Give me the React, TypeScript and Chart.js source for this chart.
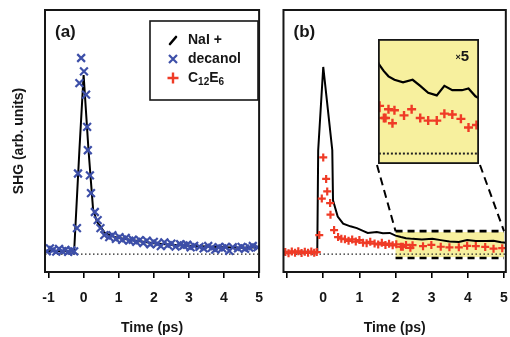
import React, { useEffect, useRef } from 'react';
import { Chart, registerables } from 'chart.js';
Chart.register(...registerables);

const FONT = '"Liberation Sans", Arial, Helvetica, sans-serif';

// ---------- Panel (a): NaI + decanol ----------
const lineA_t = [-1.1, -0.7, -0.4, -0.27, -0.12, 0, 0.14, 0.27, 0.38, 0.6, 0.8, 1.0, 1.5, 2.0, 2.5, 3.0, 3.5, 4.0, 4.5, 5.0];
const lineA_y = [1.6, 1.8, 1.5, 1.5, 58, 100, 58, 25, 18, 12, 10, 9, 7.5, 6, 5.2, 4.6, 4.2, 3.8, 3.6, 3.8];

const decanol_t = [
  -1.05, -0.96, -0.87, -0.78, -0.7, -0.61, -0.52, -0.44, -0.35, -0.27,
  -0.19, -0.16, -0.12, -0.07, 0.01, 0.07, 0.1, 0.12, 0.18, 0.21, 0.32, 0.4, 0.48, 0.59, 0.73,
  0.82, 0.92, 1.02, 1.1, 1.2, 1.3, 1.4, 1.5, 1.6, 1.7, 1.8, 1.9, 2.0, 2.1, 2.2, 2.3, 2.4, 2.5,
  2.62, 2.75, 2.85, 2.95, 3.05, 3.15, 3.3, 3.42, 3.55, 3.65, 3.75, 3.85, 3.95, 4.05, 4.15, 4.25,
  4.4, 4.5, 4.6, 4.72, 4.82, 4.95,
];
const decanol_y = [
  1.5, 3.2, 2.4, 1.4, 2.9, 1.7, 2.4, 1.2, 2.0, 1.5,
  14.5, 45, 95.5, 109.5, 102, 89, 71, 58, 44, 34, 23.5, 19, 14.5, 10.6, 9.5,
  10.5, 8.5, 9.5, 8, 9, 7.5, 8, 6.8, 7.8, 6.2, 7.5, 5.5, 6.8, 5.8, 4.5, 6.5, 5, 5.8,
  4.2, 5.5, 4.8, 5.2, 3.8, 4.6, 4, 3.2, 4.5, 3.5, 2.5, 3.8, 3.2, 4, 1.8, 3.8,
  3.2, 4, 3, 3.6, 4.5, 3.8,
];

// ---------- Panel (b): NaI + C12E6 ----------
const lineB_t = [-1.1, -0.6, -0.165, -0.14, 0, 0.25, 0.27, 0.4, 0.55, 0.75, 0.93, 1.1, 1.23, 1.48, 1.65, 1.84,
  2.0, 2.15, 2.29, 2.47, 2.73, 3.02, 3.25, 3.49, 3.75, 3.98, 4.22, 4.51, 4.71, 4.92, 5.05];
const lineB_y = [1.2, 1.3, 1.2, 58, 104.5, 58, 30, 21, 17, 15.5, 14.5, 13, 11.8, 12.3, 11.6, 11.8,
  10.3, 9.5, 8.9, 8.5, 8.2, 8.5, 7.8, 7.0, 6.7, 7.8, 7.3, 7.3, 7.5, 6.6, 6.3];

const c12e6_t = [
  -1.05, -0.96, -0.87, -0.78, -0.69, -0.6, -0.51, -0.42, -0.33, -0.25, -0.18,
  -0.11, -0.04, 0, 0.08, 0.11, 0.19, 0.2, 0.3, 0.41, 0.5, 0.6, 0.7, 0.8, 0.9, 1.0, 1.1, 1.2, 1.3,
  1.42, 1.52, 1.62, 1.72, 1.82, 1.92, 2.02,
  2.15, 2.2, 2.29, 2.41, 2.47, 2.76, 2.99, 3.25, 3.49, 3.75, 3.98, 4.22, 4.48, 4.71, 4.95,
];
const c12e6_y = [
  1.2, 0.5, 1.5, 0.8, 1.6, 0.6, 1.3, 0.7, 1.4, 0.8, 1.1,
  10.6, 31, 54, 42, 35, 28.5, 22, 13.4, 9.5, 8.6, 8.3, 7.4, 8.2, 7.0, 7.8, 6.4, 6.1, 6.9,
  5.9, 5.4, 6.3, 5.1, 5.8, 4.9, 5.5,
  4.1, 4.1, 5.1, 3.5, 5.0, 4.4, 5.1, 4.1, 3.8, 3.8, 4.6, 4.5, 4.0, 3.0, 3.3,
];

// ---------- axes ----------
const tickValues = [-1, 0, 1, 2, 3, 4, 5];
const tickLabelsA = ['-1', '0', '1', '2', '3', '4', '5'];
const tickLabelsB = ['', '0', '1', '2', '3', '4', '5'];
const xRangeA = [-1.1, 5.0];
const xRangeB = [-1.1, 5.05];
const yRange = [-10, 136.3];
// zoomed region (panel b) and inset (x5)
const zoomX = [2, 5];
const zoomBoxY = [-2.2, 12.8];
const zoomFillY = [-1.7, 12.3];
const insetY = [-1.1, 13.1];

// layout (page pixels)
const A_LEFT = 0, A_W = 275;
const B_LEFT = 275, B_W = 245;
const H = 337;
const INSET = { left: 377, top: 38, width: 103, height: 127 };
const INSET_PAD = 5;

const BLUE = '#3d4fa8';
const RED = '#ef3b26';
const YELLOW = '#f7f09e';
const INK = '#161616';

const pts = (ts: number[], ys: number[]) => ts.map((x, i) => ({ x, y: ys[i] }));

const framePlugin = {
  id: 'frame',
  afterDraw(chart: any) {
    const { ctx, chartArea: ca } = chart;
    ctx.save();
    ctx.strokeStyle = INK;
    ctx.lineWidth = 2;
    ctx.strokeRect(ca.left, ca.top, ca.right - ca.left, ca.bottom - ca.top);
    ctx.restore();
  },
};

function panelLabel(text: string) {
  return {
    id: 'panelLabel',
    afterDraw(chart: any) {
      const { ctx, chartArea: ca } = chart;
      ctx.save();
      ctx.fillStyle = INK;
      ctx.font = `bold 17px ${FONT}`;
      ctx.textBaseline = 'middle';
      ctx.textAlign = 'left';
      ctx.fillText(text, ca.left + 10, ca.top + 22);
      ctx.restore();
    },
  };
}

const legendPlugin = {
  id: 'legendA',
  afterDraw(chart: any) {
    const { ctx, chartArea: ca } = chart;
    const bx = ca.left + 105, by = ca.top + 11, bw = 108, bh = 79;
    ctx.save();
    ctx.fillStyle = '#fff';
    ctx.fillRect(bx, by, bw, bh);
    ctx.strokeStyle = INK;
    ctx.lineWidth = 1.6;
    ctx.strokeRect(bx, by, bw, bh);
    const sx = bx + 23, tx = bx + 38;
    const rows = [by + 19, by + 38, by + 57];
    // symbol 1: black line
    ctx.strokeStyle = '#000';
    ctx.lineWidth = 2.6;
    ctx.lineCap = 'round';
    ctx.beginPath();
    ctx.moveTo(sx - 3, rows[0] + 4);
    ctx.lineTo(sx + 3, rows[0] - 3);
    ctx.stroke();
    // symbol 2: blue x
    ctx.strokeStyle = BLUE;
    ctx.lineWidth = 2.2;
    ctx.lineCap = 'butt';
    ctx.beginPath();
    ctx.moveTo(sx - 4, rows[1] - 4); ctx.lineTo(sx + 4, rows[1] + 4);
    ctx.moveTo(sx + 4, rows[1] - 4); ctx.lineTo(sx - 4, rows[1] + 4);
    ctx.stroke();
    // symbol 3: red +
    ctx.strokeStyle = RED;
    ctx.lineWidth = 2.4;
    ctx.beginPath();
    ctx.moveTo(sx - 5.5, rows[2]); ctx.lineTo(sx + 5.5, rows[2]);
    ctx.moveTo(sx, rows[2] - 5.5); ctx.lineTo(sx, rows[2] + 5.5);
    ctx.stroke();
    // texts
    ctx.fillStyle = INK;
    ctx.textBaseline = 'middle';
    ctx.textAlign = 'left';
    ctx.font = `bold 14px ${FONT}`;
    ctx.fillText('NaI +', tx, rows[0]);
    ctx.fillText('decanol', tx, rows[1]);
    let x = tx;
    const seq: [string, boolean][] = [['C', false], ['12', true], ['E', false], ['6', true]];
    for (const [s, sub] of seq) {
      ctx.font = sub ? `bold 10px ${FONT}` : `bold 14px ${FONT}`;
      ctx.fillText(s, x, rows[2] + (sub ? 4 : 0));
      x += ctx.measureText(s).width;
    }
    ctx.restore();
  },
};

const zoomBoxPlugin = {
  id: 'zoomBox',
  beforeDatasetsDraw(chart: any) {
    const { ctx, scales } = chart;
    const x0 = scales.x.getPixelForValue(zoomX[0]);
    const x1 = scales.x.getPixelForValue(zoomX[1]);
    const y0 = scales.y.getPixelForValue(zoomFillY[1]);
    const y1 = scales.y.getPixelForValue(zoomFillY[0]);
    ctx.save();
    ctx.fillStyle = YELLOW;
    ctx.fillRect(x0, y0, x1 - x0, y1 - y0);
    ctx.restore();
  },
  afterDatasetsDraw(chart: any) {
    const { ctx, scales } = chart;
    const x0 = scales.x.getPixelForValue(zoomX[0]);
    const x1 = scales.x.getPixelForValue(zoomX[1]);
    const yt = scales.y.getPixelForValue(zoomBoxY[1]);
    const yb = scales.y.getPixelForValue(zoomBoxY[0]);
    ctx.save();
    ctx.strokeStyle = '#000';
    ctx.lineWidth = 2.6;
    ctx.setLineDash([7, 5]);
    ctx.beginPath();
    ctx.moveTo(x0, yt); ctx.lineTo(x1, yt);
    ctx.moveTo(x0, yb); ctx.lineTo(x1, yb);
    ctx.stroke();
    // connectors to inset
    const il = INSET.left - B_LEFT, ir = INSET.left + INSET.width - B_LEFT, ib = INSET.top + INSET.height;
    ctx.lineWidth = 2;
    ctx.setLineDash([8, 5]);
    ctx.beginPath();
    ctx.moveTo(il, ib); ctx.lineTo(x0, yt);
    ctx.moveTo(ir, ib); ctx.lineTo(x1, yt);
    ctx.stroke();
    ctx.restore();
  },
};

const insetPlugin = {
  id: 'inset',
  beforeDraw(chart: any) {
    const { ctx, chartArea: ca } = chart;
    ctx.save();
    ctx.fillStyle = YELLOW;
    ctx.fillRect(ca.left, ca.top, ca.right - ca.left, ca.bottom - ca.top);
    ctx.restore();
  },
  afterDraw(chart: any) {
    const { ctx, chartArea: ca } = chart;
    ctx.save();
    ctx.strokeStyle = INK;
    ctx.lineWidth = 1.8;
    ctx.strokeRect(ca.left, ca.top, ca.right - ca.left, ca.bottom - ca.top);
    ctx.fillStyle = INK;
    ctx.textBaseline = 'middle';
    ctx.textAlign = 'right';
    ctx.font = `bold 15px ${FONT}`;
    const fiveW = ctx.measureText('5').width;
    ctx.fillText('5', ca.right - 9, ca.top + 17);
    ctx.font = `bold 9px ${FONT}`;
    ctx.fillText('×', ca.right - 9 - fiveW, ca.top + 18);
    ctx.restore();
  },
};

function xAxis(range: number[], labels: string[]) {
  return {
    type: 'linear',
    min: range[0],
    max: range[1],
    afterBuildTicks: (s: any) => { s.ticks = tickValues.map((v) => ({ value: v })); },
    afterFit: (s: any) => { s.height = 65; },
    ticks: {
      callback: (_v: any, i: number) => labels[i],
      font: { family: FONT, size: 14, weight: 'bold' },
      color: INK,
      padding: 12,
      maxRotation: 0,
      autoSkip: false,
    },
    grid: { display: true, drawOnChartArea: false, drawTicks: true, tickLength: 6, color: '#000', lineWidth: 1.6 },
    border: { display: false },
    title: { display: true, text: 'Time (ps)', font: { family: FONT, size: 14, weight: 'bold' }, color: INK, padding: { top: 0, bottom: 0 } },
  };
}

function baseline(range: number[], width = 1.3, dash = [1.5, 2.5]) {
  return {
    data: [{ x: range[0], y: 0 }, { x: range[1], y: 0 }],
    showLine: true, borderColor: '#222', borderWidth: width, borderDash: dash, pointRadius: 0,
  };
}

function cfgA(): any {
  return {
    type: 'scatter',
    data: {
      datasets: [
        { data: pts(decanol_t, decanol_y), pointStyle: 'crossRot', pointRadius: 5.5, pointBorderColor: BLUE, pointBorderWidth: 2.2, showLine: false },
        { data: pts(lineA_t, lineA_y), showLine: true, borderColor: '#000', borderWidth: 2, pointRadius: 0 },
        baseline(xRangeA),
      ],
    },
    options: {
      responsive: false, animation: false, events: [],
      layout: { padding: { top: 10, right: 7, left: 0, bottom: 0 } },
      plugins: { legend: { display: false }, tooltip: { enabled: false } },
      scales: {
        x: xAxis(xRangeA, tickLabelsA),
        y: {
          type: 'linear', min: yRange[0], max: yRange[1],
          afterFit: (s: any) => { s.width = 45; },
          ticks: { display: false }, grid: { display: false }, border: { display: false },
          title: { display: true, text: 'SHG (arb. units)', font: { family: FONT, size: 14, weight: 'bold' }, color: INK, padding: { top: 11, bottom: 0 } },
        },
      },
    },
    plugins: [framePlugin, legendPlugin, panelLabel('(a)')],
  };
}

function cfgB(): any {
  return {
    type: 'scatter',
    data: {
      datasets: [
        { data: pts(c12e6_t, c12e6_y), pointStyle: 'cross', pointRadius: 4, pointBorderColor: RED, pointBorderWidth: 2.2, showLine: false },
        { data: pts(lineB_t, lineB_y), showLine: true, borderColor: '#000', borderWidth: 2, pointRadius: 0 },
        baseline(xRangeB),
      ],
    },
    options: {
      responsive: false, animation: false, events: [],
      layout: { padding: { top: 10, right: 12, left: 8, bottom: 0 } },
      plugins: { legend: { display: false }, tooltip: { enabled: false } },
      scales: {
        x: xAxis(xRangeB, tickLabelsB),
        y: { type: 'linear', min: yRange[0], max: yRange[1], display: false },
      },
    },
    plugins: [zoomBoxPlugin, framePlugin, panelLabel('(b)')],
  };
}

function cfgI(): any {
  return {
    type: 'scatter',
    data: {
      datasets: [
        { data: pts(c12e6_t, c12e6_y), pointStyle: 'cross', pointRadius: 4.5, pointBorderColor: RED, pointBorderWidth: 2.4, showLine: false },
        { data: pts(lineB_t, lineB_y), showLine: true, borderColor: '#000', borderWidth: 2.2, pointRadius: 0 },
        baseline(zoomX, 2, [2, 2]),
      ],
    },
    options: {
      responsive: false, animation: false, events: [],
      layout: { padding: INSET_PAD },
      plugins: { legend: { display: false }, tooltip: { enabled: false } },
      scales: {
        x: { type: 'linear', min: zoomX[0], max: zoomX[1], display: false },
        y: { type: 'linear', min: insetY[0], max: insetY[1], display: false },
      },
    },
    plugins: [insetPlugin],
  };
}

export default function App() {
  const refA = useRef<HTMLCanvasElement>(null);
  const refB = useRef<HTMLCanvasElement>(null);
  const refI = useRef<HTMLCanvasElement>(null);
  useEffect(() => {
    const charts = [
      new Chart(refA.current as HTMLCanvasElement, cfgA()),
      new Chart(refB.current as HTMLCanvasElement, cfgB()),
      new Chart(refI.current as HTMLCanvasElement, cfgI()),
    ];
    return () => charts.forEach((c) => c.destroy());
  }, []);
  return (
    <div style={{ position: 'fixed', left: 0, top: 0, width: 510, height: H, overflow: 'hidden', background: '#fff' }}>
      <canvas ref={refA} width={A_W} height={H} style={{ position: 'absolute', left: A_LEFT, top: 0, width: A_W, height: H }} />
      <canvas ref={refB} width={B_W} height={H} style={{ position: 'absolute', left: B_LEFT, top: 0, width: B_W, height: H }} />
      <canvas
        ref={refI}
        width={INSET.width + 2 * INSET_PAD}
        height={INSET.height + 2 * INSET_PAD}
        style={{ position: 'absolute', left: INSET.left - INSET_PAD, top: INSET.top - INSET_PAD, width: INSET.width + 2 * INSET_PAD, height: INSET.height + 2 * INSET_PAD }}
      />
    </div>
  );
}
